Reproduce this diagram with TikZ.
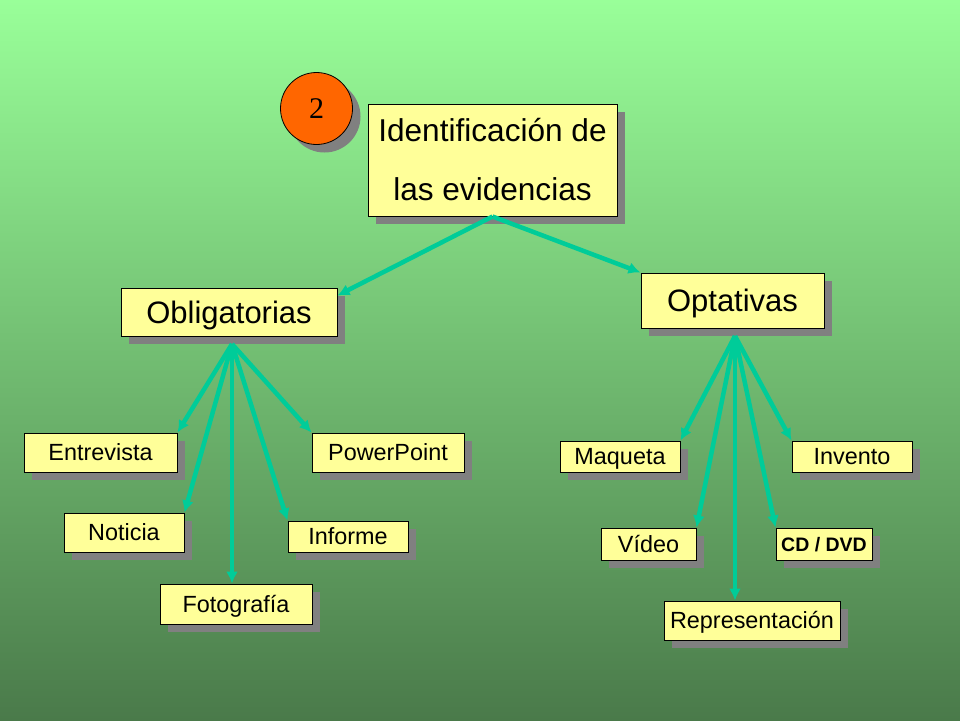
\documentclass[tikz,border=0pt]{standalone}
\usepackage{fontspec}
\setmainfont{Liberation Sans}
\newfontfamily\numfont{Liberation Serif}
\usepackage{tikz}
\usetikzlibrary{arrows.meta,shadows,positioning}
\tikzset{>={Latex[width=12pt,length=12pt]}}

\definecolor{bgtop}{RGB}{153,255,153}
\definecolor{bgbot}{RGB}{74,122,74}
\definecolor{boxfill}{RGB}{255,255,153}
\definecolor{linkcol}{RGB}{0,204,153}
\definecolor{badgefill}{RGB}{255,102,0}

\tikzset{
  evbox/.style={draw=black, line width=1pt, fill=boxfill, inner sep=0pt,
    drop shadow={shadow xshift=8pt, shadow yshift=-8pt, fill=gray, opacity=1}},
  bigword/.style={evbox, font=\fontsize{31}{31}\selectfont, text height=22.2pt, text depth=0pt},
  smallword/.style={evbox, font=\fontsize{23.4}{23.4}\selectfont, text height=16.5pt, text depth=0pt},
  link/.style={->, draw=linkcol, line width=4.5pt},
}

\begin{document}
\begin{tikzpicture}[x=1pt, y=-1pt]

  \useasboundingbox (0,0) rectangle (960,720);
  \shade[top color=bgtop, bottom color=bgbot] (0,0) rectangle (960,720);

  %% title and badge
  \node[evbox, minimum width=249pt, minimum height=112pt, align=center,
        font=\fontsize{31.6}{59}\selectfont] (ident) at (492.5,160) {Identificación de\\las evidencias};
  \node[circle, draw=black, line width=0.8pt, fill=badgefill, minimum size=72pt, inner sep=0pt,
        drop shadow={shadow xshift=8pt, shadow yshift=-8pt, fill=gray, opacity=1},
        font=\numfont\fontsize{30}{30}\selectfont] (badge) at (316.5,108.5) {2};

  %% two groups
  \node[bigword, minimum width=216pt, minimum height=48pt] (obl) at (229,312) {Obligatorias};
  \node[bigword, minimum width=183pt, minimum height=55pt] (opt) at (732.5,300.5) {Optativas};

  %% obligatorias
  \node[smallword, minimum width=153pt, minimum height=39pt] (entre) at (100.5,452.5) {Entrevista};
  \node[smallword, minimum width=152pt, minimum height=39pt] (power) at (388,452.5) {PowerPoint};
  \node[smallword, minimum width=120pt, minimum height=39pt] (noti) at (124,532.5) {Noticia};
  \node[smallword, minimum width=120pt, minimum height=31pt] (inf) at (348,536.5) {Informe};
  \node[smallword, minimum width=152pt, minimum height=40pt] (foto) at (236,604) {Fotografía};

  %% optativas
  \node[smallword, minimum width=120pt, minimum height=31pt] (maq) at (620,456.5) {Maqueta};
  \node[smallword, minimum width=120pt, minimum height=31pt] (inv) at (852,456.5) {Invento};
  \node[smallword, minimum width=95pt, minimum height=32pt] (video) at (648.5,544) {Vídeo};
  \node[evbox, minimum width=96pt, minimum height=32pt, font=\bfseries\fontsize{19.5}{19.5}\selectfont,
        text height=14pt, text depth=0pt] (cd) at (824,544) {CD / DVD};
  \node[smallword, minimum width=176pt, minimum height=39pt] (repr) at (752,620.5) {Representación};

  \coordinate (oblfoot) at (232,344);
  \coordinate (optfoot) at (735,336);

  %% arrows
  \draw[link] (ident.south) -- ([yshift=-8pt]obl.north east);
  \draw[link] (ident.south) -- (opt.north west);

  \foreach \n/\a in {entre/north east, noti/north east, inf/north west, power/north west}
    \draw[link] (oblfoot) -- (\n.\a);
  \draw[link] (oblfoot) -- (oblfoot |- foto.north);

  \foreach \n/\a in {maq/north east, video/north east, cd/north west, inv/north west}
    \draw[link] (optfoot) -- (\n.\a);
  \draw[link] (optfoot) -- (optfoot |- repr.north);

\end{tikzpicture}
\end{document}
